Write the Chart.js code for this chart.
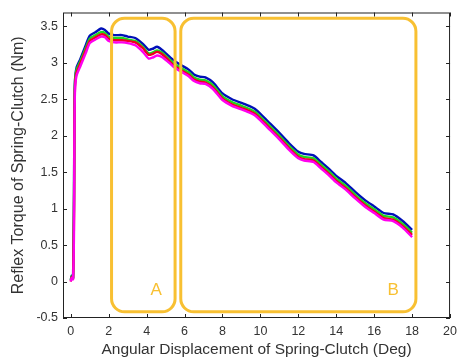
<!DOCTYPE html>
<html>
<head>
<meta charset="utf-8">
<script src="https://cdn.jsdelivr.net/npm/chart.js@4/dist/chart.umd.min.js"></script>
<style>
  html, body { margin: 0; padding: 0; background: #fff; }
  #wrap { width: 463px; height: 362px; }
</style>
</head>
<body>
<div id="wrap"><canvas id="c" width="463" height="362"></canvas></div>
<script>
// angular displacement (deg)
const angle = [0, 0.05, 0.12, 0.17, 0.19, 0.22, 0.3, 0.5, 0.8, 1.0, 1.3, 1.6, 1.8, 2.0, 2.3, 2.7, 3.0, 3.4, 3.8, 4.1, 4.3, 4.55, 4.8, 5.1, 5.4, 5.8, 6.2, 6.5, 6.8, 7.1, 7.5, 8.0, 8.5, 9.0, 9.4, 9.7, 10.0, 10.5, 11.0, 11.5, 12.0, 12.3, 12.8, 13.2, 13.6, 14.0, 14.5, 15.0, 15.5, 16.0, 16.5, 17.0, 17.5, 18.0]

// reflex torque (Nm), one array per trial
const torqueBlue = [0.02, 0.08, 0.05, 1.2, 2.3, 2.75, 2.93, 3.05, 3.25, 3.37, 3.42, 3.47, 3.45, 3.40, 3.38, 3.38, 3.36, 3.34, 3.26, 3.18, 3.19, 3.22, 3.18, 3.11, 3.04, 2.97, 2.91, 2.84, 2.81, 2.80, 2.73, 2.58, 2.50, 2.45, 2.41, 2.37, 2.30, 2.17, 2.04, 1.90, 1.78, 1.75, 1.73, 1.64, 1.55, 1.45, 1.35, 1.23, 1.12, 1.03, 0.94, 0.92, 0.83, 0.71]
const torqueGreen = [0.02, 0.07, 0.05, 1.1, 2.2, 2.72, 2.90, 3.02, 3.21, 3.33, 3.38, 3.42, 3.41, 3.36, 3.34, 3.34, 3.32, 3.30, 3.22, 3.13, 3.14, 3.17, 3.14, 3.07, 3.00, 2.93, 2.87, 2.80, 2.77, 2.76, 2.69, 2.54, 2.46, 2.41, 2.37, 2.33, 2.26, 2.13, 2.00, 1.86, 1.74, 1.71, 1.69, 1.60, 1.51, 1.41, 1.31, 1.19, 1.08, 0.99, 0.90, 0.88, 0.79, 0.67]
const torqueRed = [0.00, 0.06, 0.04, 0.9, 2.0, 2.66, 2.86, 2.99, 3.18, 3.30, 3.35, 3.39, 3.38, 3.33, 3.31, 3.31, 3.30, 3.28, 3.20, 3.11, 3.12, 3.15, 3.12, 3.05, 2.97, 2.90, 2.84, 2.77, 2.74, 2.73, 2.66, 2.51, 2.43, 2.38, 2.34, 2.30, 2.23, 2.10, 1.97, 1.83, 1.71, 1.68, 1.66, 1.57, 1.48, 1.38, 1.28, 1.16, 1.05, 0.96, 0.87, 0.85, 0.76, 0.64]
const torqueMagenta = [0.00, 0.05, 0.03, 0.7, 1.9, 2.60, 2.82, 2.95, 3.14, 3.27, 3.32, 3.36, 3.35, 3.30, 3.28, 3.28, 3.27, 3.24, 3.15, 3.06, 3.07, 3.10, 3.08, 3.02, 2.95, 2.88, 2.82, 2.75, 2.72, 2.71, 2.64, 2.49, 2.41, 2.36, 2.32, 2.28, 2.21, 2.08, 1.95, 1.81, 1.69, 1.66, 1.64, 1.55, 1.46, 1.36, 1.26, 1.14, 1.03, 0.94, 0.85, 0.83, 0.74, 0.61]

const xTicks = [0, 2, 4, 6, 8, 10, 12, 14, 16, 18, 20]
const yTicks = [-0.5, 0, 0.5, 1, 1.5, 2, 2.5, 3, 3.5]

// highlighted regions in data units
const regionLabels = ["A", "B"]
const regionX = [[2.15, 5.5], [5.8, 18.2]]
const regionY = [-0.415, 3.61]
const regionLabelPos = [[4.5, -0.12], [17.0, -0.12]]

const pts = ys => angle.map((x, i) => ({x, y: ys[i]}))

const gold = "#f8c032"
const ink = "#333"

const framePlugin = {
    id: "frame",
    afterDatasetsDraw(chart) {
        const {ctx, chartArea: a, scales: {x, y}} = chart
        ctx.save()
        // regions
        ctx.strokeStyle = gold
        ctx.lineWidth = 3
        regionX.forEach((r, i) => {
            const l = x.getPixelForValue(r[0]), rt = x.getPixelForValue(r[1])
            const t = y.getPixelForValue(regionY[1]), b = y.getPixelForValue(regionY[0])
            ctx.beginPath()
            ctx.roundRect(l, t, rt - l, b - t, 13)
            ctx.stroke()
            ctx.fillStyle = gold
            ctx.font = "17px 'Liberation Sans', Arial, sans-serif"
            ctx.textAlign = "center"
            ctx.textBaseline = "middle"
            ctx.fillText(regionLabels[i], x.getPixelForValue(regionLabelPos[i][0]), y.getPixelForValue(regionLabelPos[i][1]))
        })
        // box frame with inward ticks
        ctx.strokeStyle = "#222"
        ctx.lineWidth = 1
        ctx.strokeRect(a.left + 0.5, a.top + 0.5, a.right - a.left - 1, a.bottom - a.top - 1)
        ctx.beginPath()
        xTicks.forEach(v => {
            const px = Math.round(x.getPixelForValue(v)) + 0.5
            ctx.moveTo(px, a.bottom); ctx.lineTo(px, a.bottom - 4)
            ctx.moveTo(px, a.top); ctx.lineTo(px, a.top + 4)
        })
        yTicks.forEach(v => {
            const py = Math.round(y.getPixelForValue(v)) + 0.5
            ctx.moveTo(a.left, py); ctx.lineTo(a.left + 4, py)
            ctx.moveTo(a.right, py); ctx.lineTo(a.right - 4, py)
        })
        ctx.stroke()
        ctx.restore()
    }
}

const line = (data, color) => ({
    data: pts(data),
    showLine: true,
    borderColor: color,
    borderWidth: 2.4,
    pointRadius: 0,
    tension: 0.2,
    fill: false
})

const font = "'Liberation Sans', Arial, sans-serif"

new Chart(document.getElementById("c"), {
    type: "scatter",
    data: {
        datasets: [
            line(torqueMagenta, "#ff00ee"),
            line(torqueRed, "#ee0020"),
            line(torqueGreen, "#1ed81e"),
            line(torqueBlue, "#0010b8")
        ]
    },
    options: {
        responsive: false,
        animation: false,
        layout: { padding: { top: 6, right: 5, left: 0, bottom: 0 } },
        plugins: { legend: { display: false }, tooltip: { enabled: false } },
        scales: {
            x: {
                type: "linear",
                min: -0.41,
                max: 20,
                afterBuildTicks: s => { s.ticks = xTicks.map(value => ({value})) },
                afterFit: s => { s.height = 44 },
                grid: { display: false, drawTicks: false },
                border: { display: false },
                ticks: { color: ink, padding: 6, font: { family: font, size: 12.5 }, callback: v => String(v), maxRotation: 0 },
                title: { display: true, text: "Angular Displacement of Spring-Clutch (Deg)", color: ink, font: { family: font, size: 15.5 }, padding: { top: 0, bottom: 3 } }
            },
            y: {
                min: -0.5,
                max: 3.69,
                afterBuildTicks: s => { s.ticks = yTicks.map(value => ({value})) },
                afterFit: s => { s.width = 63 },
                grid: { display: false, drawTicks: false },
                border: { display: false },
                ticks: { color: ink, padding: 5, font: { family: font, size: 12.5 }, callback: v => String(v) },
                title: { display: true, text: "Reflex Torque of Spring-Clutch (Nm)", color: ink, font: { family: font, size: 16 }, padding: { top: 9, bottom: 0 } }
            }
        }
    },
    plugins: [framePlugin]
})
</script>
</body>
</html>
